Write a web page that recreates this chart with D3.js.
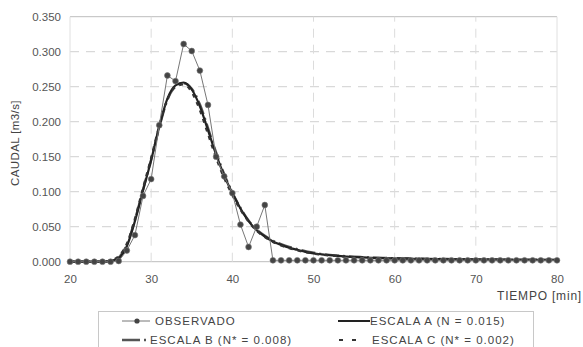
<!DOCTYPE html>
<html><head><meta charset="utf-8">
<script src="https://cdn.jsdelivr.net/npm/d3@7"></script>
<style>body{margin:0;background:#fff}svg{display:block}text{font-family:"Liberation Sans",Arial,sans-serif}</style>
</head><body><svg id="c" width="583" height="347"></svg>
<script>
const minutes = [20,21,22,23,24,25,26,27,28,29,30,31,32,33,34,35,36,37,38,39,40,41,42,43,44,45,46,47,48,49,50,51,52,53,54,55,56,57,58,59,60,61,62,63,64,65,66,67,68,69,70,71,72,73,74,75,76,77,78,79,80];
const observado = [0,0,0,0,0,0,0.001,0.016,0.038,0.094,0.118,0.195,0.266,0.258,0.311,0.301,0.273,0.224,0.150,0.122,0.098,0.053,0.021,0.050,0.081,0.002,
 0.002,0.002,0.002,0.002,0.002,0.002,0.002,0.002,0.002,0.002,0.002,0.002,0.002,0.002,0.002,0.002,0.002,0.002,0.002,0.002,0.002,0.002,0.002,0.002,0.002,0.002,0.002,0.002,0.002,0.002,0.002,0.002,0.002,0.002,0.002];
const escalaA = [0,0,0,0,0,0.001,0.005,0.022,0.058,0.102,0.145,0.193,0.233,0.252,0.256,0.246,0.222,0.188,0.153,0.123,0.098,0.076,0.058,0.045,0.036,0.029,0.024,0.020,0.017,0.014,0.012,0.0105,0.0092,0.0082,0.0074,0.0067,0.0061,0.0056,0.0052,0.0049,0.0046,0.0044,0.0042,0.0040,0.0038,0.0036,0.0035,0.0034,0.0033,0.0032,0.0031,0.0030,0.0029,0.0028,0.0027,0.0026,0.0026,0.0025,0.0025,0.0024,0.0024];
const escalaB = [0,0,0,0,0,0.001,0.006,0.024,0.060,0.103,0.146,0.192,0.231,0.250,0.255,0.247,0.225,0.191,0.156,0.125,0.099,0.077,0.059,0.046,0.037,0.030,0.025,0.021,0.018,0.015,0.013,0.011,0.0097,0.0087,0.0078,0.0071,0.0065,0.0060,0.0056,0.0053,0.0050,0.0047,0.0045,0.0043,0.0041,0.0039,0.0038,0.0037,0.0036,0.0035,0.0034,0.0033,0.0032,0.0031,0.0030,0.0029,0.0029,0.0028,0.0028,0.0027,0.0027];
const escalaC = [0,0,0,0,0,0.002,0.008,0.026,0.062,0.106,0.149,0.195,0.232,0.250,0.253,0.242,0.216,0.182,0.148,0.119,0.095,0.074,0.057,0.044,0.035,0.028,0.023,0.019,0.016,0.0135,0.0115,0.010,0.0088,0.0079,0.0071,0.0064,0.0058,0.0054,0.0050,0.0047,0.0044,0.0042,0.0040,0.0038,0.0036,0.0035,0.0034,0.0033,0.0032,0.0031,0.0030,0.0029,0.0028,0.0027,0.0026,0.0025,0.0025,0.0024,0.0024,0.0023,0.0023];
const yTicks = [0,0.05,0.10,0.15,0.20,0.25,0.30,0.35];
const xTicks = [20,30,40,50,60,70,80];
const legendLabels = ["OBSERVADO","ESCALA A (N = 0.015)","ESCALA B (N* = 0.008)","ESCALA C (N* = 0.002)"];

const svg = d3.select("#c");
const x = d3.scaleLinear().domain([20,80]).range([70,557]);
const y = d3.scaleLinear().domain([0,0.35]).range([261.7,16.7]);

// grid
const g = svg.append("g");
g.selectAll(".hg").data(yTicks).join("line")
 .attr("x1",x(20)).attr("x2",x(80)).attr("y1",d=>y(d)).attr("y2",d=>y(d))
 .attr("stroke",d=>(d===0||d===0.35)?"#bdbdbd":"#d0d0d0")
 .attr("stroke-dasharray",d=>(d===0||d===0.35)?null:"9,7").attr("stroke-width",1);
g.selectAll(".vg").data(xTicks).join("line")
 .attr("y1",y(0)).attr("y2",y(0.35)).attr("x1",d=>x(d)).attr("x2",d=>x(d))
 .attr("stroke",d=>(d===20||d===80)?"#e0e0e0":"#dcdcdc")
 .attr("stroke-dasharray",d=>(d===20||d===80)?null:"9,7");

// axes
const ya = svg.append("g").attr("transform",`translate(${x(20)},0)`)
 .call(d3.axisLeft(y).tickValues(yTicks).tickFormat(d3.format(".3f")).tickSize(0).tickPadding(9));
ya.select(".domain").remove();
ya.selectAll("text").attr("font-size",11.5).attr("fill","#555").attr("font-family","Liberation Sans, Arial, sans-serif");
const xa = svg.append("g").attr("transform",`translate(0,${y(0)})`)
 .call(d3.axisBottom(x).tickValues(xTicks).tickFormat(d3.format("d")).tickSize(0).tickPadding(13));
xa.select(".domain").remove();
xa.selectAll("text").attr("font-size",11.5).attr("fill","#555").attr("font-family","Liberation Sans, Arial, sans-serif");

svg.append("text").attr("transform","translate(19,143) rotate(-90)").attr("text-anchor","middle")
 .attr("font-size",11.5).attr("fill","#444").attr("letter-spacing",0.4).text("CAUDAL  [m3/s]");
svg.append("text").attr("x",582).attr("y",300).attr("text-anchor","end")
 .attr("font-size",12).attr("fill","#444").attr("letter-spacing",0.8).text("TIEMPO  [min]");

// curves
const mk = arr => d3.line().x((d,i)=>x(minutes[i])).y(d=>y(d)).curve(d3.curveMonotoneX)(arr);
svg.append("path").attr("d",mk(escalaB)).attr("fill","none").attr("stroke","#555").attr("stroke-width",2.4).attr("stroke-dasharray","14,4,2,4");
svg.append("path").attr("d",mk(escalaA)).attr("fill","none").attr("stroke","#222").attr("stroke-width",2.2);
svg.append("path").attr("d",mk(escalaC)).attr("fill","none").attr("stroke","#333").attr("stroke-width",2).attr("stroke-dasharray","4,5");
svg.append("path").attr("d",d3.line().x((d,i)=>x(minutes[i])).y(d=>y(d))(observado)).attr("fill","none").attr("stroke","#777").attr("stroke-width",1);
svg.append("g").selectAll("circle").data(observado).join("circle")
 .attr("cx",(d,i)=>x(minutes[i])).attr("cy",d=>y(d)).attr("r",2.9).attr("fill","#444").attr("stroke","#777").attr("stroke-width",0.6);

// legend
const lg = svg.append("g");
lg.append("rect").attr("x",98.5).attr("y",311.5).attr("width",435).attr("height",45).attr("fill","#fff").attr("stroke","#c8c8c8");
const rows = [{y:321,lbl:legendLabels[0],tx:155},{y:321,lbl:legendLabels[1],tx:370},{y:340,lbl:legendLabels[2],tx:150},{y:340,lbl:legendLabels[3],tx:372}];
// observed
lg.append("line").attr("x1",122).attr("x2",150).attr("y1",321).attr("y2",321).attr("stroke","#777");
lg.append("circle").attr("cx",137).attr("cy",321).attr("r",2.6).attr("fill","#444");
// A
lg.append("line").attr("x1",338).attr("x2",370).attr("y1",321).attr("y2",321).attr("stroke","#222").attr("stroke-width",2);
// B
lg.append("line").attr("x1",122).attr("x2",146).attr("y1",340).attr("y2",340).attr("stroke","#555").attr("stroke-width",2.4).attr("stroke-dasharray","18,4,2,4");
// C
lg.append("line").attr("x1",339).attr("x2",358).attr("y1",340).attr("y2",340).attr("stroke","#333").attr("stroke-width",2).attr("stroke-dasharray","4,9");
lg.selectAll("text").data(rows).join("text").attr("x",d=>d.tx).attr("y",d=>d.y+4).attr("font-size",11.5)
 .attr("fill","#444").attr("letter-spacing",1.0).text(d=>d.lbl);
</script></body></html>
